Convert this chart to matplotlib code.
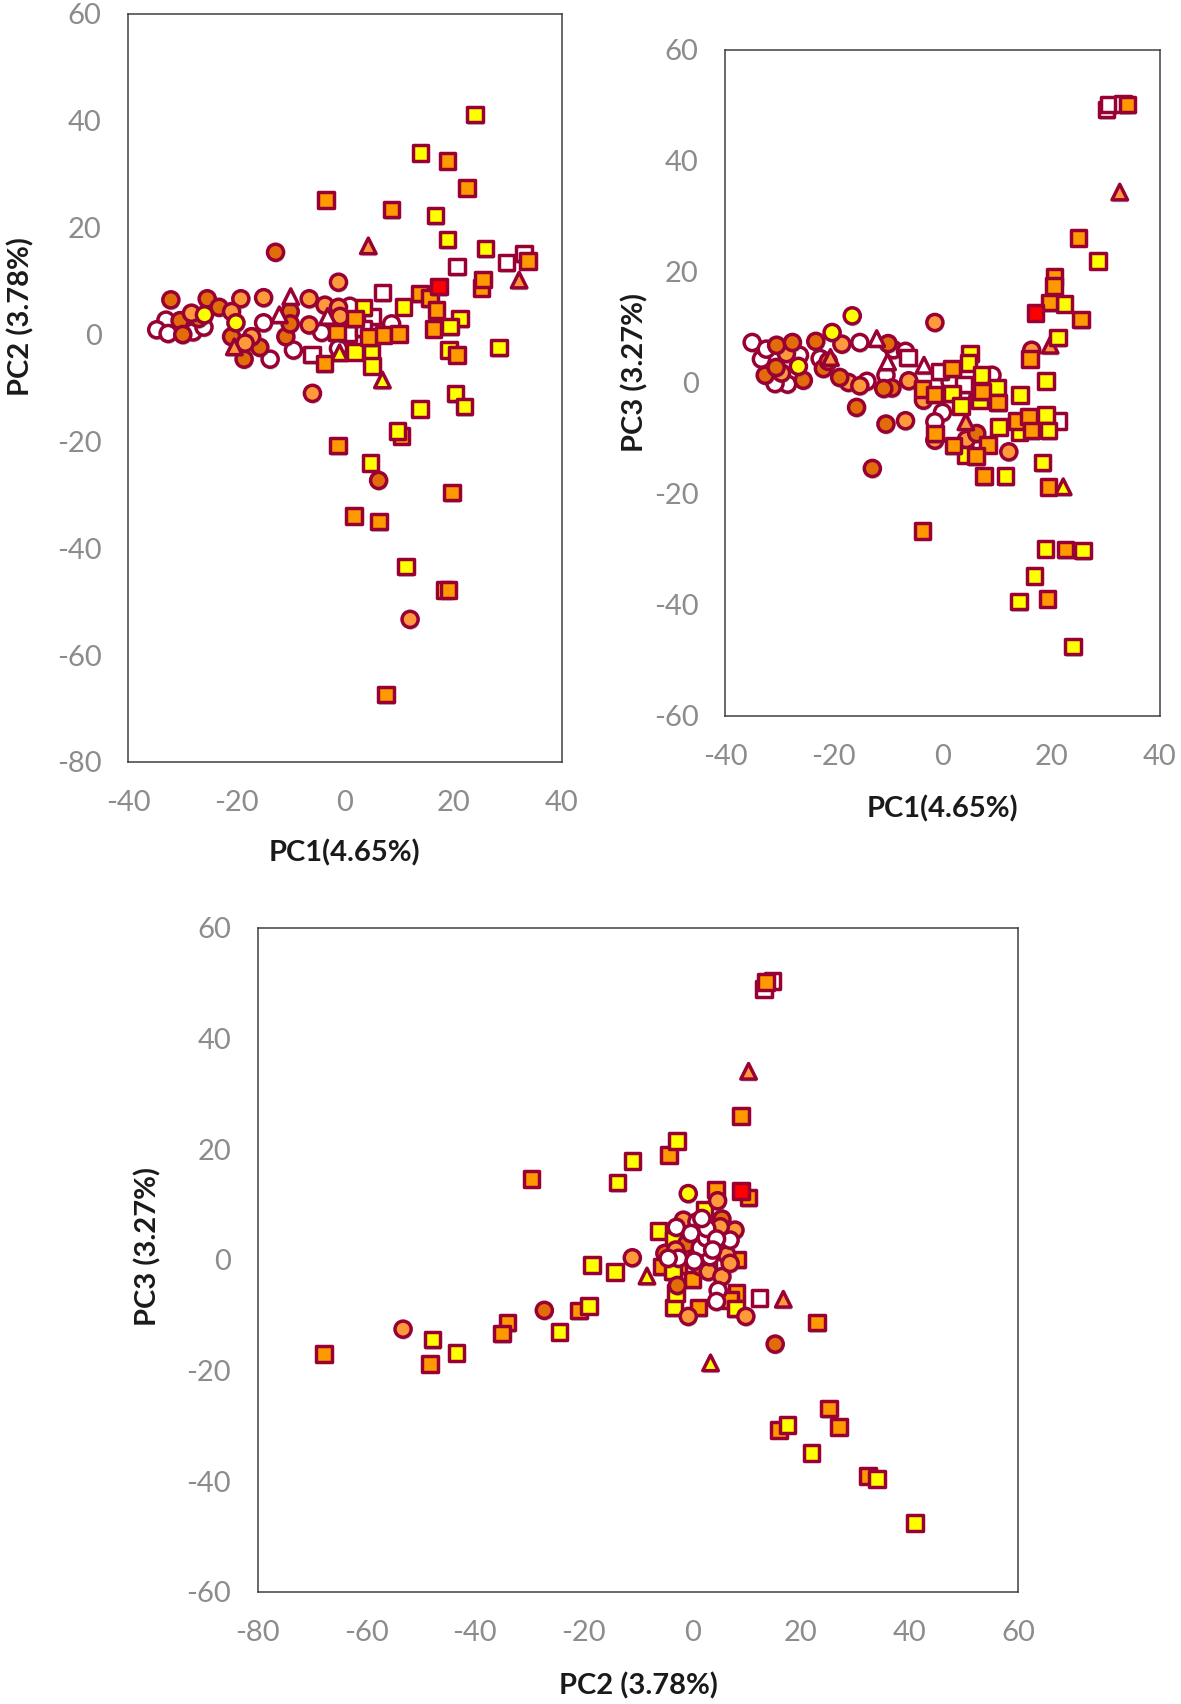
import numpy as np
import matplotlib
matplotlib.use("Agg")
import matplotlib.pyplot as plt
import matplotlib.patheffects as pe

plt.rcParams['font.family'] = ['Lato', 'DejaVu Sans']
plt.rcParams['axes.unicode_minus'] = False

# panel A: PC1 vs PC2
a_circ_white = [(-33,2.7),(-34.7,0.9),(-32.6,0.2),(-28,0.5),(-26,1.4),(-15,2.2),(-13.8,-4.6),(-9.5,-2.9),(-4.3,0.4),(0.9,5.3),(3.7,3),(-1.2,-2.6),(8.6,2)]
a_circ_dark = [(-12.8,15.4),(-32.1,6.5),(-25.4,6.7),(-23.2,5.1),(-30.4,2.6),(-27,3),(-29.9,0),(-20.9,-0.4),(-15.7,-2.4),(-18.6,-4.6),(-10.9,-0.4),(-10.1,4.3),(-10.1,2),(6.2,-27.3)]
a_circ_light = [(-1.2,9.8),(-19.2,6.7),(-15,6.9),(-6.6,6.7),(-3.7,5.5),(-1.2,5.1),(-0.9,3.4),(-20.9,4.3),(-6.6,1.8),(-17.2,-0.4),(-18.4,-1.6),(-6,-11),(-28.3,4),(12,-53.3)]
a_circ_yellow = [(-20.1,2.2),(-25.9,3.7)]
a_sq_white = [(20.6,12.7),(29.8,13.5),(33,15.2),(6.9,7.9),(-6.1,-3.7),(5,3.4),(0.6,0.2),(3.4,1.1)]
a_sq_orange_back = [(10.4,-19)]
a_sq_yellow = [(24,41.2),(13.9,34),(16.7,22.3),(18.9,17.8),(25.9,16.1),(3.4,5.1),(10.8,5.2),(21.2,3),(19.4,1.5),(19.2,-2.9),(28.4,-2.4),(1.8,-3.3),(4.9,-3.3),(5,-5.9),(20.4,-11),(22,-13.5),(13.8,-13.9),(9.7,-18),(4.7,-24),(11.2,-43.4),(18.3,-47.8)]
a_sq_orange = [(8.6,23.4),(-3.5,25.2),(33.7,13.8),(25.2,8.7),(25.4,10.3),(13.8,7.7),(15.7,6.8),(16.9,4.6),(16.3,1),(1.8,3),(-1.5,0.4),(4.4,-0.5),(7.1,-0.1),(10,0.1),(-3.8,-5.4),(20.6,-3.8),(-1.3,-20.8),(1.7,-34),(6.3,-35),(19.7,-29.6),(19.1,-47.8),(7.6,-67.4),(18.9,32.5),(22.5,27.4)]
a_sq_red = [(17.3,9)]
a_tri_white = [(-10,7.1),(-12.1,3.7),(-3.2,3.4)]
a_tri_orange = [(4.3,16.6),(32.1,10.2),(-20.4,-2.3)]
a_tri_yellow = [(6.9,-8.5),(-1,-3.4)]

# panel B: PC1 vs PC3
b_circ_white = [(-35,7.3),(-33.3,4.3),(-28.5,-0.2),(-30.8,-0.1),(-26.3,5),(-32.4,6.1),(-28.8,3.5),(-15.2,7.3),(-13.9,0.3),(-22.5,4.4),(-10.4,1.4),(-9,6),(-6.8,5.7),(0,-5.3),(-1.4,-7),(1.4,0.2),(3.6,-2.1),(9.1,1.4)]
b_circ_dark = [(-30.5,6.8),(-27.6,7.3),(-23.3,7.5),(-32.6,1.4),(-30.6,2.8),(-25.6,0.5),(-21.9,2.6),(-21,3.9),(-18.9,1),(-15.8,-4.4),(-10.4,-7.4),(-9.3,-0.9),(-10.8,-1),(-12.9,-15.4),(6.3,-9.1),(-10,7.1)]
b_circ_light = [(-18.5,7),(-1.4,10.9),(-17.3,0.1),(-15.2,-0.5),(-6.8,-6.8),(-6.2,0.4),(-3.5,-3.1),(12.2,-12.4),(-1.4,-10.3),(4.4,-10.2),(-28.7,5.3),(-29.6,1.8),(16.4,5.9)]
b_circ_yellow = [(-16.6,12.1),(-20.3,9.1),(-26.5,3)]
b_sq_white = [(-6.3,4.6),(-0.5,2.1),(4.6,2.1),(4,-0.3),(21.3,-6.8),(30.2,49.3),(30.5,50.2),(33.2,50.3)]
b_sq_yellow = [(5.1,5.3),(4.8,3.6),(7.2,1.4),(10,-0.8),(1.7,-1.9),(3.4,-4.1),(6.9,-3.1),(14.3,-2.2),(19,0.4),(10.4,-7.9),(19,-5.8),(19.5,-8.6),(14.2,-8.8),(18.4,-14.3),(11.6,-16.8),(4.2,-13),(21.2,8.2),(22.4,14.2),(28.6,22),(16.9,-34.8),(14.1,-39.4),(18.9,-29.9),(25.8,-30.2),(24,-47.5)]
b_sq_orange = [(1.7,2.6),(-3.7,-1.1),(-1.5,-2.1),(7.3,-1.5),(10.2,-3.5),(13.6,-6.8),(15.9,-6),(16.4,-8.6),(-1.4,-9.1),(2,-11.3),(8.4,-11.2),(6.2,-13.2),(7.6,-16.8),(19.5,-18.7),(25.5,11.4),(16.1,4.3),(-3.7,-26.7),(19.7,14.5),(20.6,19.1),(20.5,17.5),(25,26.1),(19.3,-38.9),(22.6,-30),(34,50.2)]
b_sq_red = [(17.1,12.6)]
b_tri_white = [(-12.1,8),(-10.1,3.8),(-3.4,3.2)]
b_tri_orange = [(-20.6,4.6),(4.3,-7),(19.8,6.8),(32.6,34.4)]
b_tri_yellow = [(22.2,-18.7)]

# panel C: PC2 vs PC3
c_sq_orange = [(4.4,12.7),(10.4,11.3),(-4.2,19),(0.1,-3.5),(-5.6,-1.2),(1.2,-8.6),(8.2,-6),(7,-7.2),(8.4,0.1),(23,-11.3),(-67.8,-17),(-48.2,-18.8),(-34,-11.3),(-35,-13.3),(-20.8,-9.1),(-29.6,14.6),(9,26),(13.6,50.2),(25.2,-26.8),(27,-30.2),(16,-30.7),(32.4,-39),(3,-1.5),(-2.5,-1)]
c_sq_yellow = [(-11,17.9),(-13.7,14),(-6.2,5.2),(-3.4,3.6),(-3.3,-8.6),(-3,-6),(-3.5,-2.1),(-14.2,-2.2),(8.1,-8.8),(2.3,9),(-47.8,-14.4),(-43.4,-16.8),(-24.4,-13),(-19,-8.3),(-18.4,-0.9),(-2.8,21.5),(17.6,-29.8),(22,-34.9),(34,-39.6),(41,-47.5)]
c_sq_white = [(12.4,-6.9),(14.8,50.4),(13.2,49)]
c_sq_red = [(9,12.5)]
c_tri_orange = [(16.8,-7.1),(10.4,34.1),(2,6.5)]
c_tri_yellow = [(-8.3,-2.9),(3.4,-18.6)]
c_circ_yellow = [(-0.7,12)]
c_circ_dark = [(5.5,7.4),(-2.7,-4.6),(15.3,-15.2),(-1,2.9),(-5,1.2),(-27.2,-9.1),(5.8,2.5),(1.5,-1.2)]
c_circ_light = [(4.7,10.7),(7.9,5.4),(-11,0.4),(3,-2.1),(6.4,0.9),(5.5,-3),(-0.7,-10.2),(9.9,-10.2),(-1.6,7.2),(7,-0.6),(-53.2,-12.5),(-3,1.8),(5.2,6)]
c_circ_white = [(0.9,6.9),(7,3.6),(3.3,0.6),(1.5,2.2),(-2.9,5.9),(-0.2,4.8),(2.6,4),(2.7,5.7),(1.8,7.5),(4.5,3.8),(3.8,1.8),(-2.5,0.3),(-4.4,0.3),(0.4,-0.2),(4.8,-5.5),(4.5,-7.5)]

STYLE = {
    'circ_white': ('o', '#ffffff', 135), 'circ_dark': ('o', '#e36c0a', 135),
    'circ_light': ('o', '#ff9a3c', 135), 'circ_yellow': ('o', '#ffff00', 135),
    'sq_white': ('s', '#ffffff', 125), 'sq_yellow': ('s', '#ffff00', 125),
    'sq_orange': ('s', '#ff9900', 125), 'sq_red': ('s', '#ff0000', 125),
    'tri_white': ('^', '#ffffff', 125), 'tri_orange': ('^', '#ff9a3c', 125),
    'tri_yellow': ('^', '#ffff00', 125),
}
EDGE = '#990033'
W, H = 1181, 1704


def draw(box, xlim, ylim, xticks, yticks, xlab, ylab, layers):
    l, r, t, b = box
    ax = fig.add_axes([l/W, 1-b/H, (r-l)/W, (b-t)/H])
    for name, pts in layers:
        m, col, s = STYLE[name]
        x, y = zip(*pts)
        sc = ax.scatter(x, y, marker=m, s=s, facecolor=col, edgecolor=EDGE, linewidth=2.5, clip_on=False)
        sc.set_path_effects([pe.SimplePatchShadow(offset=(0.6, -1.8), shadow_rgbFace='#2f5f5f', alpha=0.3), pe.Normal()])
    ax.set_xlim(xlim)
    ax.set_ylim(ylim)
    ax.set_xticks(xticks)
    ax.set_yticks(yticks)
    ax.tick_params(length=0, labelsize=21, labelcolor='#8c8c8c')
    ax.tick_params(axis='x', pad=20)
    ax.tick_params(axis='y', pad=19)
    for sp in ax.spines.values():
        sp.set_color('#404040')
        sp.set_linewidth(1.1)
    fig.text(xlab[0]/W, 1-xlab[1]/H, xlab[2], ha='center', va='center', fontsize=21, fontweight='bold', color='#1a1a1a')
    fig.text(ylab[0]/W, 1-ylab[1]/H, ylab[2], ha='center', va='center', rotation=90, fontsize=21, fontweight='bold', color='#1a1a1a')


fig = plt.figure(figsize=(W/100, H/100), dpi=100, facecolor='white')

draw((128, 562, 14, 762), (-40, 40), (-80, 60), range(-40, 41, 20), range(-80, 61, 20),
     (344, 853, 'PC1(4.65%)'), (21, 317, 'PC2 (3.78%)'),
     [('circ_white', a_circ_white), ('circ_dark', a_circ_dark), ('circ_light', a_circ_light),
      ('circ_yellow', a_circ_yellow), ('tri_white', a_tri_white), ('tri_orange', a_tri_orange),
      ('tri_yellow', a_tri_yellow), ('sq_white', a_sq_white), ('sq_orange', a_sq_orange_back),
      ('sq_yellow', a_sq_yellow), ('sq_orange', a_sq_orange), ('sq_red', a_sq_red)])

draw((725, 1160, 50, 716), (-40, 40), (-60, 60), range(-40, 41, 20), range(-60, 61, 20),
     (942, 809, 'PC1(4.65%)'), (635, 373, 'PC3 (3.27%)'),
     [('circ_white', b_circ_white), ('circ_light', b_circ_light), ('circ_dark', b_circ_dark),
      ('circ_yellow', b_circ_yellow), ('tri_white', b_tri_white), ('tri_orange', b_tri_orange),
      ('tri_yellow', b_tri_yellow), ('sq_white', b_sq_white), ('sq_yellow', b_sq_yellow),
      ('sq_orange', b_sq_orange), ('sq_red', b_sq_red)])

draw((257.5, 1018, 928, 1592), (-80, 60), (-60, 60), range(-80, 61, 20), range(-60, 61, 20),
     (638, 1686, 'PC2 (3.78%)'), (148, 1246, 'PC3 (3.27%)'),
     [('sq_white', c_sq_white), ('sq_orange', c_sq_orange), ('sq_yellow', c_sq_yellow), ('sq_red', c_sq_red),
      ('tri_orange', c_tri_orange), ('tri_yellow', c_tri_yellow), ('circ_yellow', c_circ_yellow),
      ('circ_dark', c_circ_dark), ('circ_light', c_circ_light), ('circ_white', c_circ_white)])

fig.savefig('out.png', dpi=100)
